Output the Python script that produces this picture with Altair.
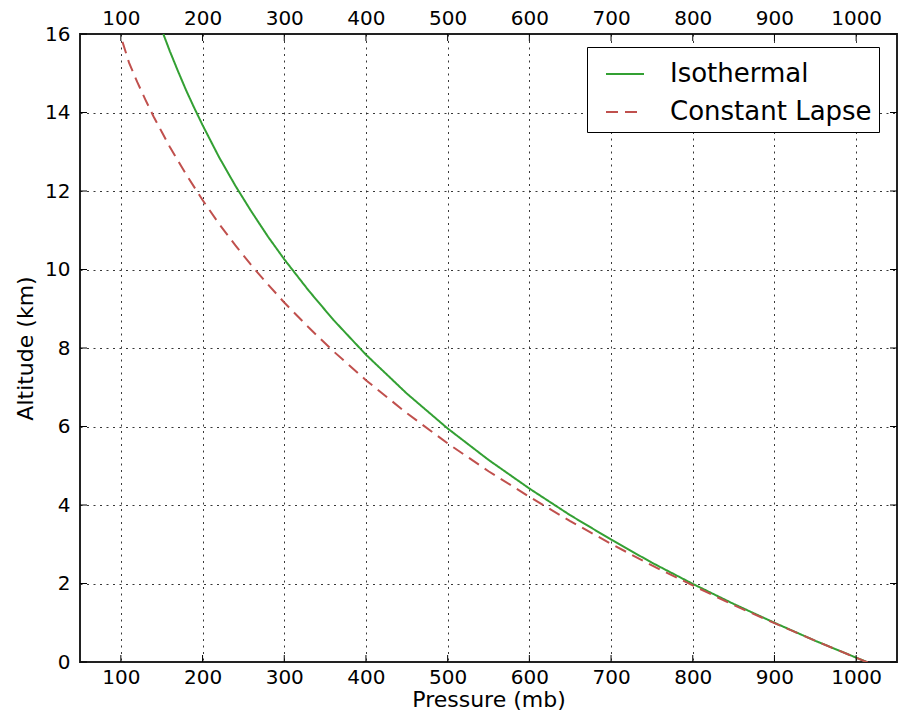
import altair as alt
import pandas as pd

# ---- data ----
iso_pressure = [152, 160, 170, 180, 190, 200, 220, 240, 260, 280, 300, 330, 360, 400,
                450, 500, 550, 600, 650, 700, 750, 800, 850, 900, 950, 1013]
iso_altitude = [16.0, 15.56, 15.05, 14.56, 14.11, 13.68, 12.87, 12.14, 11.47, 10.84,
                10.26, 9.46, 8.72, 7.83, 6.84, 5.95, 5.15, 4.42, 3.74, 3.12, 2.53,
                1.99, 1.48, 1.00, 0.54, 0.0]

lapse_pressure = [102, 110, 120, 130, 140, 150, 160, 180, 200, 220, 240, 260, 280, 300,
                  330, 360, 400, 450, 500, 550, 600, 650, 700, 750, 800, 850, 900,
                  950, 1015]
lapse_altitude = [15.8, 15.27, 14.78, 14.33, 13.90, 13.51, 13.12, 12.42, 11.77, 11.17,
                  10.62, 10.10, 9.62, 9.16, 8.52, 7.92, 7.18, 6.34, 5.57, 4.86, 4.21,
                  3.59, 3.01, 2.46, 1.95, 1.45, 0.99, 0.54, -0.02]

series_names = ["Isothermal", "Constant Lapse"]
series_colors = ["#33a033", "#c0504d"]
series_dashes = [[1, 0], [12, 7]]

x_ticks = [100, 200, 300, 400, 500, 600, 700, 800, 900, 1000]
y_ticks = [0, 2, 4, 6, 8, 10, 12, 14, 16]

df = pd.concat([
    pd.DataFrame({"pressure": iso_pressure, "altitude": iso_altitude, "series": series_names[0]}),
    pd.DataFrame({"pressure": lapse_pressure, "altitude": lapse_altitude, "series": series_names[1]}),
])
xt = pd.DataFrame({"tick": x_ticks})
yt = pd.DataFrame({"tick": y_ticks})

W, H = 817, 628
FONT = "DejaVu Sans"
LFS = 20
TFS = 22
xscale = alt.Scale(domain=[50, 1050], nice=False, zero=False)
yscale = alt.Scale(domain=[0, 16], nice=False, zero=False)

legend = alt.Legend(title=None, orient="none", legendX=507, legendY=13,
                    symbolType="stroke", symbolSize=1444, symbolStrokeWidth=2,
                    labelFontSize=26, labelFont=FONT, labelColor="black", labelLimit=0,
                    labelOffset=25, symbolOffset=11, padding=7, rowPadding=5,
                    strokeColor="black", fillColor="white", cornerRadius=0)

grid_kw = dict(grid=True, gridColor="#222222", gridDash=[2, 4.5], gridWidth=1, gridOpacity=0.9,
               ticks=False, domain=False, labelFontSize=LFS, labelFont=FONT, labelColor="black",
               titleFontSize=TFS, titleFont=FONT, titleColor="black", titleFontWeight="normal")

lines = alt.Chart(df).mark_line(strokeWidth=2, clip=True).encode(
    x=alt.X("pressure:Q", scale=xscale,
            axis=alt.Axis(title="Pressure (mb)", values=x_ticks, format="d",
                          labelPadding=5, titlePadding=2, **grid_kw)),
    y=alt.Y("altitude:Q", scale=yscale,
            axis=alt.Axis(title="Altitude (km)", values=y_ticks, format="d",
                          labelPadding=10, titlePadding=7, **grid_kw)),
    color=alt.Color("series:N", scale=alt.Scale(domain=series_names, range=series_colors), legend=legend),
    strokeDash=alt.StrokeDash("series:N", scale=alt.Scale(domain=series_names, range=series_dashes), legend=legend),
)

TL = 7
top_ticks = alt.Chart(xt).mark_rule(color="black", strokeWidth=1).encode(
    x=alt.X("tick:Q", scale=xscale,
            axis=alt.Axis(orient="top", title=None, values=x_ticks, format="d", grid=False, ticks=False,
                          domain=False, labelPadding=6, labelFontSize=LFS, labelFont=FONT,
                          labelColor="black")),
    y=alt.value(0), y2=alt.value(TL),
)
bottom_ticks = alt.Chart(xt).mark_rule(color="black", strokeWidth=1).encode(
    x=alt.X("tick:Q", scale=xscale, axis=None),
    y=alt.value(H), y2=alt.value(H - TL),
)
left_ticks = alt.Chart(yt).mark_rule(color="black", strokeWidth=1).encode(
    y=alt.Y("tick:Q", scale=yscale, axis=None),
    x=alt.value(0), x2=alt.value(TL),
)
right_ticks = alt.Chart(yt).mark_rule(color="black", strokeWidth=1).encode(
    y=alt.Y("tick:Q", scale=yscale, axis=None),
    x=alt.value(W), x2=alt.value(W - TL),
)

chart = alt.layer(lines, top_ticks, bottom_ticks, left_ticks, right_ticks).resolve_axis(
    x="independent", y="independent"
).properties(
    width=W, height=H,
    autosize=alt.AutoSizeParams(type="none"),
    padding={"left": 80, "top": 34, "right": 1, "bottom": 50},
    background="white",
).configure_view(stroke="#222222", strokeWidth=2)

chart.save("out.html", embed_options={"renderer": "svg", "actions": False})
